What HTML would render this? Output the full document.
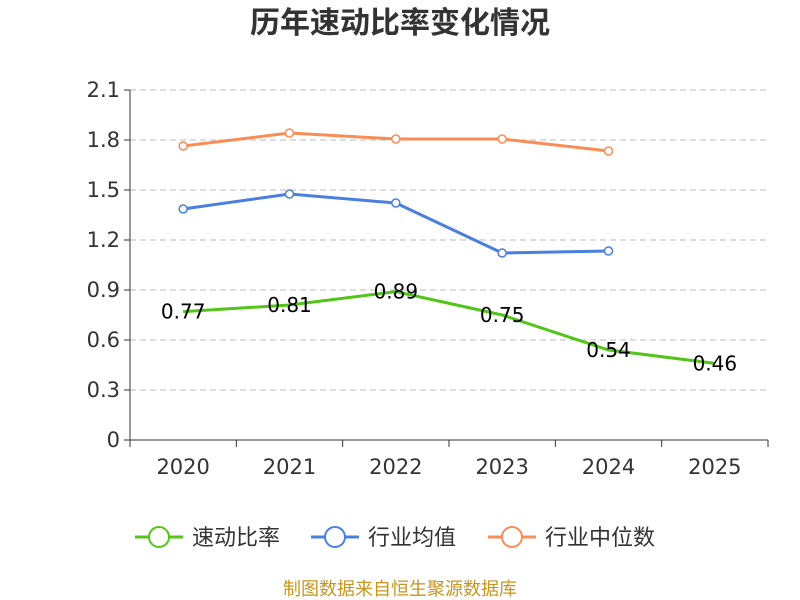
<!DOCTYPE html>
<html><head><meta charset="utf-8"><style>
body{margin:0;background:#fff;}
svg{display:block;font-family:"Liberation Sans","Noto Sans CJK SC",sans-serif;}
.num{font-family:"DejaVu Sans","Liberation Sans",sans-serif;}
</style></head><body>
<svg id="c" width="800" height="600">
<text x="400" y="33" text-anchor="middle" font-size="30" font-weight="bold" fill="#333">历年速动比率变化情况</text>
<g id="grid"></g><g id="axes"></g><g id="series"></g>
<g id="legend"></g>
<text x="400" y="595" text-anchor="middle" font-size="18" fill="#c8961e">制图数据来自恒生聚源数据库</text>
</svg>
<script>
const categories=["2020","2021","2022","2023","2024","2025"];
const yTicks=[0,0.3,0.6,0.9,1.2,1.5,1.8,2.1];
const yTickLabels=["0","0.3","0.6","0.9","1.2","1.5","1.8","2.1"];
const quickRatio=[0.77,0.81,0.89,0.75,0.54,0.46];
const industryMean=[1.386,1.476,1.422,1.122,1.134];
const industryMedian=[1.764,1.842,1.806,1.806,1.734];
const seriesNames=["速动比率","行业均值","行业中位数"];
const colors=["#52c41a","#4a7fe0","#fa8c55"];
const NS="http://www.w3.org/2000/svg";
const x0=130,x1=768,y0=440,y1=90,yMax=2.1;
const bw=(x1-x0)/categories.length;
const xs=i=>x0+bw*(i+0.5);
const ys=v=>y0-(v/yMax)*(y0-y1);
function mk(tag,attrs,parent,text){const e=document.createElementNS(NS,tag);for(const k in attrs)e.setAttribute(k,attrs[k]);if(text!==undefined)e.textContent=text;document.getElementById(parent).appendChild(e);return e;}
yTicks.forEach((t,i)=>{
 if(i>0){const g=mk('line',{x1:x0,x2:x1,y1:ys(t),y2:ys(t),stroke:'#bbb','stroke-dasharray':'6,4'},'grid');
 
 }
 const tk=mk('line',{x1:x0-6,x2:x0,y1:ys(t),y2:ys(t),stroke:'#333'},'axes');
 
 
 const l=mk('text',{x:x0-10,y:ys(t)+7,'text-anchor':'end','font-size':21,fill:'#333',class:'num'},'axes',yTickLabels[i]);
 
 
});
const ya=mk('line',{x1:x0,x2:x0,y1:y1,y2:y0,stroke:'#333'},'axes');


const xa=mk('line',{x1:x0,x2:x1,y1:y0,y2:y0,stroke:'#333'},'axes');


for(let i=0;i<=categories.length;i++){const t=mk('line',{x1:x0+bw*i,x2:x0+bw*i,y1:y0,y2:y0+7,stroke:'#333'},'axes');
 
 }
categories.forEach((c,i)=>{const l=mk('text',{x:xs(i),y:474,'text-anchor':'middle','font-size':21,fill:'#333',class:'num'},'axes',c);
 
 });
function drawLine(data,col,name,markers,labels){
 const p=mk('polyline',{points:data.map((v,i)=>xs(i)+','+ys(v)).join(' '),fill:'none',stroke:col,'stroke-width':3},'series');
 
 
 data.forEach((v,i)=>{
  if(markers){const c=mk('circle',{cx:xs(i),cy:ys(v),r:4,fill:'#fff',stroke:col,'stroke-width':1.5},'series');
   
   }
  if(labels){const t=mk('text',{x:xs(i),y:ys(v)+7,'text-anchor':'middle','font-size':20,fill:'#000',class:'num'},'series',v.toFixed(2));
   
   }
 });
}
drawLine(industryMedian,colors[2],'industry-median',true,false);
drawLine(industryMean,colors[1],'industry-mean',true,false);
drawLine(quickRatio,colors[0],'quick-ratio',false,true);
const lx=[135,311,488];
seriesNames.forEach((n,i)=>{
 const l=mk('line',{x1:lx[i],x2:lx[i]+48,y1:537,y2:537,stroke:colors[i],'stroke-width':3},'legend');
 
 
 const c=mk('circle',{cx:lx[i]+24,cy:537,r:10,fill:'#fff',stroke:colors[i],'stroke-width':2},'legend');
 
 
 const t=mk('text',{x:lx[i]+57,y:545,'font-size':22,fill:'#333'},'legend',n);
 
 
});
</script>
</body></html>
